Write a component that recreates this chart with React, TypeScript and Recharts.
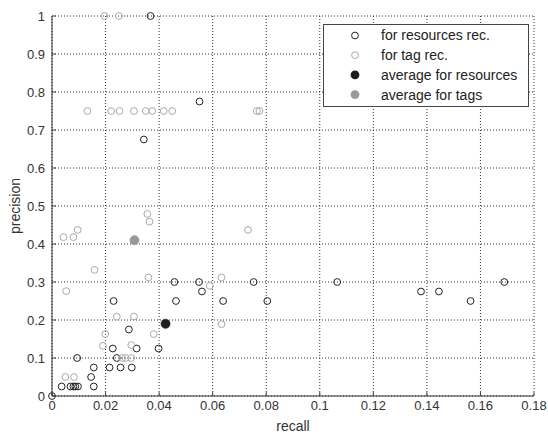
import React from 'react';
import { ScatterChart, Scatter, XAxis, YAxis, CartesianGrid, Legend, Label } from 'recharts';

const resourcesRecall = [0.0368, 0.0343, 0.0551, 0.0457, 0.0463, 0.023, 0.0287, 0.0227, 0.0316, 0.0398, 0.0094, 0.0242, 0.0156, 0.0215, 0.0256, 0.0298, 0.0146, 0.0156, 0.0036, 0.0069, 0.008, 0.0087, 0.0097, 0.0549, 0.056, 0.0639, 0.0753, 0.0804, 0.1065, 0.1378, 0.1445, 0.1563, 0.1689, 0];
const resourcesPrecision = [1, 0.675, 0.775, 0.3, 0.25, 0.25, 0.175, 0.125, 0.125, 0.125, 0.1, 0.1, 0.075, 0.075, 0.075, 0.075, 0.05, 0.025, 0.025, 0.025, 0.025, 0.025, 0.025, 0.3, 0.275, 0.25, 0.3, 0.25, 0.3, 0.275, 0.275, 0.25, 0.3, 0];

const tagRecall = [0.0196, 0.025, 0.0132, 0.0221, 0.0252, 0.0306, 0.035, 0.0374, 0.0417, 0.0449, 0.0765, 0.0775, 0.0356, 0.0364, 0.0043, 0.008, 0.0096, 0.0732, 0.0159, 0.0053, 0.036, 0.0589, 0.0633, 0.0633, 0.0242, 0.0306, 0.0199, 0.038, 0.019, 0.0296, 0.0262, 0.0275, 0.0296, 0.005, 0.0082, 0.0425];
const tagPrecision = [1, 1, 0.75, 0.75, 0.75, 0.75, 0.75, 0.75, 0.75, 0.75, 0.75, 0.75, 0.479, 0.459, 0.418, 0.418, 0.437, 0.437, 0.332, 0.276, 0.312, 0.29, 0.312, 0.189, 0.209, 0.209, 0.163, 0.163, 0.132, 0.134, 0.1, 0.1, 0.1, 0.05, 0.05, 0.19];

const avgResources = { recall: 0.0424, precision: 0.19 };
const avgTags = { recall: 0.0308, precision: 0.41 };

const xTicks = [0, 0.02, 0.04, 0.06, 0.08, 0.1, 0.12, 0.14, 0.16, 0.18];
const yTicks = [0, 0.1, 0.2, 0.3, 0.4, 0.5, 0.6, 0.7, 0.8, 0.9, 1];

const legendLabels = ['for resources rec.', 'for tag rec.', 'average for resources', 'average for tags'];

const resourcesData = resourcesRecall.map((r, i) => ({ recall: r, precision: resourcesPrecision[i] }));
const tagData = tagRecall.map((r, i) => ({ recall: r, precision: tagPrecision[i] }));

const FONT = '"Liberation Sans", Arial, sans-serif';
const BLACK = '#222';
const GRAY = '#aaa';
const AVG_BLACK = '#1e1e1e';
const AVG_GRAY = '#999';

const openCircle = (color: string) => (props: any) => (
  <circle cx={props.cx} cy={props.cy} r={3.4} fill="none" stroke={color} strokeWidth={1} />
);
const filledCircle = (color: string) => (props: any) => (
  <circle cx={props.cx} cy={props.cy} r={4.6} fill={color} stroke={color} strokeWidth={0.5} />
);

const fmt = (v: number) => String(Math.round(v * 100) / 100);

const YTick = (props: any) => {
  const { x, y, payload } = props;
  const axisX = x + 7;
  return (
    <g>
      <line x1={axisX} x2={axisX + 4} y1={y} y2={y} stroke="#444" />
      <text x={x} y={y} dy="0.35em" textAnchor="end" fill="#333" fontSize={13} fontFamily={FONT}>
        {fmt(payload.value)}
      </text>
    </g>
  );
};

const XTick = (props: any) => {
  const { x, y, payload } = props;
  const axisY = y - 3;
  return (
    <g>
      <line x1={x} x2={x} y1={axisY} y2={axisY - 4} stroke="#444" />
      <text x={x} y={y} dy="0.85em" textAnchor="middle" fill="#333" fontSize={13} fontFamily={FONT}>
        {fmt(payload.value)}
      </text>
    </g>
  );
};

const LegendBox = () => {
  const rows = [0, 1, 2, 3];
  return (
    <svg width={206} height={83} style={{ display: 'block' }}>
      <rect x={0.5} y={0.5} width={205} height={82} fill="#fff" stroke="#444" />
      {rows.map((i) => {
        const cy = 11.5 + i * 19.7;
        const marker =
          i === 0 ? <circle cx={32} cy={cy} r={3.4} fill="none" stroke={BLACK} /> :
          i === 1 ? <circle cx={32} cy={cy} r={3.4} fill="none" stroke={GRAY} /> :
          i === 2 ? <circle cx={32} cy={cy} r={4.4} fill={AVG_BLACK} /> :
          <circle cx={32} cy={cy} r={4.4} fill={AVG_GRAY} />;
        return (
          <g key={i}>
            {marker}
            <text x={58} y={cy} dy="0.35em" fontSize={14} fill="#222" fontFamily={FONT}>{legendLabels[i]}</text>
          </g>
        );
      })}
    </svg>
  );
};

export default function App() {
  return (
    <div style={{ position: 'absolute', left: 0, top: 0, width: 548, height: 437, background: '#fff' }}>
      <ScatterChart width={548} height={437} margin={{ top: 16, right: 14, bottom: 0, left: 0 }}>
        <CartesianGrid stroke="#333" strokeDasharray="1 2" />
        <XAxis
          type="number"
          dataKey="recall"
          domain={[0, 0.18]}
          ticks={xTicks}
          interval={0}
          height={41}
          tickSize={0}
          tickMargin={3}
          tickLine={false}
          tick={<XTick />}
          stroke="#333"
        >
          <Label value="recall" position="insideBottom" offset={6} fill="#333" fontSize={14} fontFamily={FONT} />
        </XAxis>
        <YAxis
          type="number"
          dataKey="precision"
          domain={[0, 1]}
          ticks={yTicks}
          interval={0}
          width={52}
          tickSize={0}
          tickMargin={7}
          tickLine={false}
          tick={<YTick />}
          stroke="#333"
        >
          <Label value="precision" angle={-90} position="insideLeft" offset={15} fill="#333" fontSize={14} fontFamily={FONT} style={{ textAnchor: 'middle' }} />
        </YAxis>
        <Legend
          layout="vertical"
          align="center"
          verticalAlign="middle"
          content={() => <LegendBox />}
          wrapperStyle={{ left: 323, top: 24, width: 206, height: 83 }}
        />
        <Scatter name="for resources rec." data={resourcesData} shape={openCircle(BLACK)} isAnimationActive={false} />
        <Scatter name="for tag rec." data={tagData} shape={openCircle(GRAY)} isAnimationActive={false} />
        <Scatter name="average for resources" data={[avgResources]} shape={filledCircle(AVG_BLACK)} isAnimationActive={false} />
        <Scatter name="average for tags" data={[avgTags]} shape={filledCircle(AVG_GRAY)} isAnimationActive={false} />
      </ScatterChart>
    </div>
  );
}
